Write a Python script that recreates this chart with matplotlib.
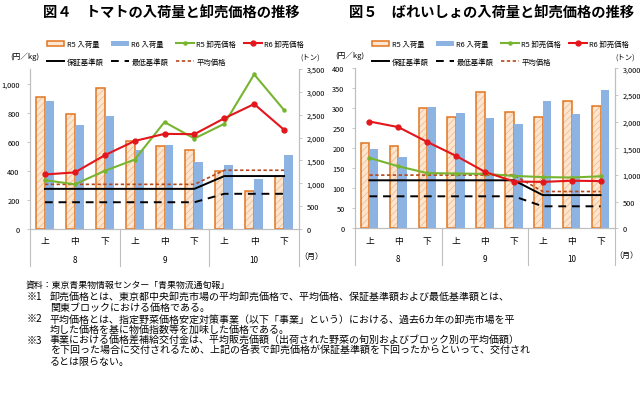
import matplotlib
matplotlib.use("Agg")
import matplotlib.pyplot as plt
from matplotlib.lines import Line2D
from matplotlib.patches import Patch
from matplotlib.ticker import FuncFormatter, MultipleLocator
import numpy as np

plt.rcParams['font.family'] = ['Noto Sans CJK JP', 'DejaVu Sans']
plt.rcParams['hatch.linewidth'] = 0.6

periods = ['上', '中', '下', '上', '中', '下', '上', '中', '下']
months = ['8', '9', '10']

# 図4 トマト
tomato_r5_vol = [2880, 2510, 3080, 1930, 1820, 1725, 1260, 825, 1170]
tomato_r6_vol = [2790, 2270, 2480, 1730, 1840, 1475, 1400, 1095, 1620]
tomato_r5_price = [336, 307, 400, 477, 735, 622, 723, 1063, 818]
tomato_r6_price = [375, 389, 507, 605, 654, 652, 761, 859, 682]
tomato_avg = [307, 307, 307, 307, 307, 307, 404, 404, 404]
tomato_guar = [276, 276, 276, 276, 276, 276, 364, 364, 364]
tomato_min = [184, 184, 184, 184, 184, 184, 242, 242, 242]

# 図5 ばれいしょ
potato_r5_vol = [1595, 1535, 2255, 2095, 2550, 2185, 2080, 2395, 2285]
potato_r6_vol = [1485, 1330, 2270, 2160, 2070, 1955, 2395, 2145, 2600]
potato_r5_price = [176, 155, 138, 137, 136, 131, 128, 127, 130]
potato_r6_price = [267, 253, 216, 181, 141, 117, 116, 119, 118]
potato_avg = [133, 133, 133, 133, 133, 133, 92, 92, 92]
potato_guar = [120, 120, 120, 120, 120, 120, 83, 83, 83]
potato_min = [80, 80, 80, 80, 80, 80, 55, 55, 55]

notes = [
    ('', '資料：東京青果物情報センター「青果物流通旬報」'),
    ('※1', '卸売価格とは、東京都中央卸売市場の平均卸売価格で、平均価格、保証基準額および最低基準額とは、'),
    ('', '関東ブロックにおける価格である。'),
    ('※2', '平均価格とは、指定野菜価格安定対策事業（以下「事業」という）における、過去6カ年の卸売市場を平'),
    ('', '均した価格を基に物価指数等を加味した価格である。'),
    ('※3', '事業における価格差補給交付金は、平均販売価額（出荷された野菜の旬別およびブロック別の平均価額）'),
    ('', 'を下回った場合に交付されるため、上記の各表で卸売価格が保証基準額を下回ったからといって、交付され'),
    ('', 'るとは限らない。'),
]

ORANGE = '#E2741E'
PEACH = '#FCE6D2'
HATCH = '#F3BE8E'
BLUE = '#8DB3E2'
GREEN = '#77B530'
RED = '#E3161C'
AVG = '#B5471C'
GREY = '#BFBFBF'

fmt = FuncFormatter(lambda v, p: f'{int(v):,}')


def draw_chart(rect, title, r5v, r6v, r5p, r6p, avg, guar, mn,
               pmax, pstep, vmax, vstep):
    ax = fig.add_axes(rect)
    x = np.arange(len(periods))
    w = 0.3
    # bars on host axes (right scale)
    ax.bar(x - w / 2, r5v, w, color=PEACH, edgecolor=HATCH, hatch='/////', linewidth=0, zorder=1)
    ax.bar(x - w / 2, r5v, w, color='none', edgecolor=ORANGE, linewidth=1.1, zorder=2)
    ax.bar(x + w / 2, r6v, w, color=BLUE, linewidth=0, zorder=2)
    ax.set_xlim(-0.5, len(periods) - 0.5)
    ax.set_xticks([])

    ax2 = ax.twinx()
    ax.yaxis.tick_right()
    ax2.yaxis.tick_left()
    ax.set_ylim(0, vmax)
    ax.yaxis.set_major_locator(MultipleLocator(vstep))
    ax.yaxis.set_major_formatter(fmt)
    ax2.set_ylim(0, pmax)
    ax2.yaxis.set_major_locator(MultipleLocator(pstep))
    ax2.yaxis.set_major_formatter(fmt)
    ax2.plot(x, avg, color=AVG, lw=1.2, ls=(0, (2, 1.5)), zorder=3)
    ax2.plot(x, guar, color='black', lw=1.4, zorder=3)
    ax2.plot(x, mn, color='black', lw=1.4, ls=(0, (4, 3)), zorder=3)
    ax2.plot(x, r5p, color=GREEN, lw=1.5, marker='o', ms=2.2, zorder=4)
    ax2.plot(x, r6p, color=RED, lw=1.5, marker='o', ms=3.5, zorder=5)

    for a in (ax, ax2):
        a.spines['top'].set_visible(False)
        for s in ('left', 'right', 'bottom'):
            a.spines[s].set_color(GREY)
            a.spines[s].set_linewidth(0.8)
        a.tick_params(axis='y', labelsize=5.3, length=2.5, width=0.6, color=GREY, pad=3)
    ax2.tick_params(axis='y', pad=5)

    # category labels
    for i, p in enumerate(periods):
        ax.text(i, -0.075, p, transform=ax.get_xaxis_transform(), ha='center', va='center', fontsize=6.3)
    for j, m in enumerate(months):
        ax.text(3 * j + 1, -0.19, m, transform=ax.get_xaxis_transform(), ha='center', va='center', fontsize=5.8)
    for b in (-0.5, 2.5, 5.5, 8.5):
        ax.add_line(Line2D([b, b], [0, -0.23], transform=ax.get_xaxis_transform(),
                           color=GREY, lw=0.8, clip_on=False))
    ax.text(1.045, -0.165, '（月）', transform=ax.transAxes, ha='center', va='center', fontsize=5.8)
    ax.text(-0.02, 1.085, '(円／kg)', transform=ax.transAxes, ha='center', va='center', fontsize=5.5)
    ax.text(1.04, 1.075, '(トン)', transform=ax.transAxes, ha='center', va='center', fontsize=5.3)

    l, b_, wd, ht = rect
    fig.text(l + wd / 2 + 0.01, 0.965, title, ha='center', va='center', fontsize=10.3, fontweight='bold')

    handles = [
        Patch(facecolor=PEACH, edgecolor=ORANGE, linewidth=1.1, label='R5 入荷量'),
        Line2D([], [], color='black', lw=1.4, label='保証基準額'),
        Patch(facecolor=BLUE, edgecolor='none', label='R6 入荷量'),
        Line2D([], [], color='black', lw=1.4, ls=(0, (4, 3)), label='最低基準額'),
        Line2D([], [], color=GREEN, lw=1.5, marker='o', ms=2.2, label='R5 卸売価格'),
        Line2D([], [], color=AVG, lw=1.2, ls=(0, (2, 1.5)), label='平均価格'),
        Line2D([], [], color=RED, lw=1.5, marker='o', ms=3.5, label='R6 卸売価格'),
    ]
    fig.legend(handles=handles, ncol=4, loc='upper left',
               bbox_to_anchor=(l + 0.026, 1 - 41 / 402), frameon=False,
               fontsize=5.3, handlelength=2.4, handleheight=0.8, handletextpad=0.3,
               columnspacing=1.1, labelspacing=1.35, borderpad=0, borderaxespad=0)


fig = plt.figure(figsize=(6.4, 4.02), dpi=100)

draw_chart([30 / 640, 1 - 230 / 402, 269 / 640, 160 / 402], '図４　トマトの入荷量と卸売価格の推移',
           tomato_r5_vol, tomato_r6_vol, tomato_r5_price, tomato_r6_price,
           tomato_avg, tomato_guar, tomato_min, 1100, 200, 3500, 500)
draw_chart([355 / 640, 1 - 229.3 / 402, 260 / 640, 160 / 402], '図５　ばれいしょの入荷量と卸売価格の推移',
           potato_r5_vol, potato_r6_vol, potato_r5_price, potato_r6_price,
           potato_avg, potato_guar, potato_min, 400, 50, 3000, 500)

ys = [285, 297, 307.7, 319.3, 330, 340.7, 351, 361.7]
for (mark, txt), yy in zip(notes, ys):
    if mark:
        fig.text(27 / 640, 1 - yy / 402, mark, ha='left', va='center', fontsize=7.2)
        fig.text(50 / 640, 1 - yy / 402, txt, ha='left', va='center', fontsize=7.2)
    elif txt.startswith('資料'):
        fig.text(26 / 640, 1 - yy / 402, txt, ha='left', va='center', fontsize=6.4)
    else:
        fig.text(50 / 640, 1 - yy / 402, txt, ha='left', va='center', fontsize=7.2)

fig.savefig('out.png', dpi=100)
